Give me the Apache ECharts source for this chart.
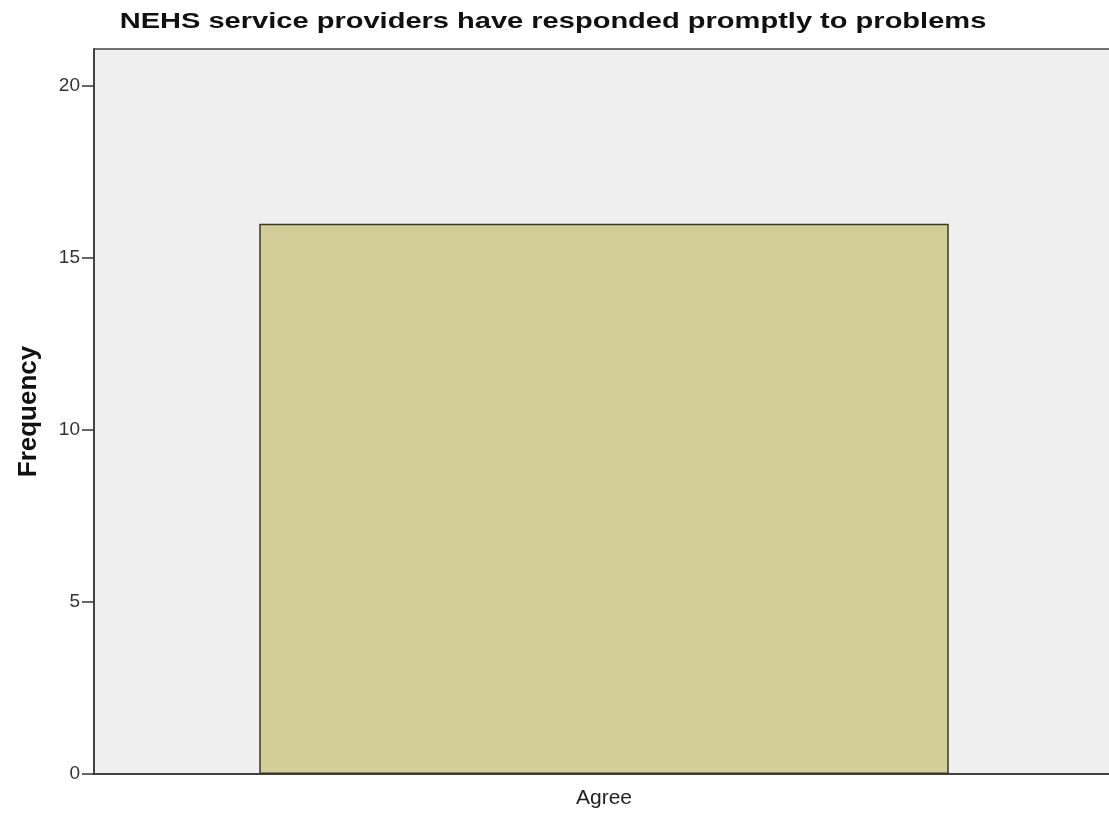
<!DOCTYPE html>
<html>
<head>
<meta charset="utf-8">
<script src="https://cdn.jsdelivr.net/npm/echarts@6/dist/echarts.min.js"></script>
<style>
  html, body { margin: 0; padding: 0; background: #ffffff; }
  #chart { width: 1109px; height: 815px; }
</style>
</head>
<body>
<div id="chart"></div>
<script>
// Survey response counts
const chartTitle = 'NEHS service providers have responded promptly to problems';
const categories = ['Agree'];
const frequencies = [16];
const yTicks = [0, 5, 10, 15, 20];

const chart = echarts.init(document.getElementById('chart'));
chart.setOption({
  animation: false,
  backgroundColor: '#ffffff',
  graphic: [{
    // wide bold heading, centred over the page
    type: 'text',
    x: 553,
    y: 22,
    scaleX: 1.32,
    style: {
      text: chartTitle,
      font: 'bold 22px "Liberation Sans", Arial, sans-serif',
      fill: '#111',
      align: 'center',
      verticalAlign: 'middle'
    }
  }],
  grid: {
    left: 94, top: 49, width: 1020, bottom: 41,
    containLabel: false,
    outerBoundsMode: 'none',
    show: true, backgroundColor: '#efefef', borderColor: '#444', borderWidth: 1.5
  },
  xAxis: {
    type: 'category',
    data: categories,
    axisLine: { lineStyle: { color: '#333', width: 1.5 } },
    axisTick: { alignWithLabel: true, length: 8, lineStyle: { color: '#222', width: 1.5 } },
    axisLabel: { fontFamily: 'Liberation Sans', fontSize: 21, color: '#222', margin: 14 }
  },
  yAxis: {
    type: 'value',
    min: 0,
    max: 21.08,
    interval: 5,
    name: 'Frequency',
    nameLocation: 'middle',
    nameGap: 52,
    nameTextStyle: { fontFamily: 'Liberation Sans', fontSize: 26, fontWeight: 'bold', color: '#111' },
    splitLine: { show: false },
    axisLine: { show: true, lineStyle: { color: '#333', width: 1.5 } },
    axisTick: { show: true, length: 12, customValues: yTicks, lineStyle: { color: '#333', width: 1.5 } },
    axisLabel: {
      fontFamily: 'Liberation Sans', fontSize: 19, color: '#333', margin: 14,
      customValues: yTicks
    }
  },
  series: [{
    type: 'bar',
    data: frequencies,
    barWidth: '67.6%',
    itemStyle: { color: '#d3cd98', borderColor: '#3a3a22', borderWidth: 1.5 }
  }]
});
</script>
</body>
</html>
